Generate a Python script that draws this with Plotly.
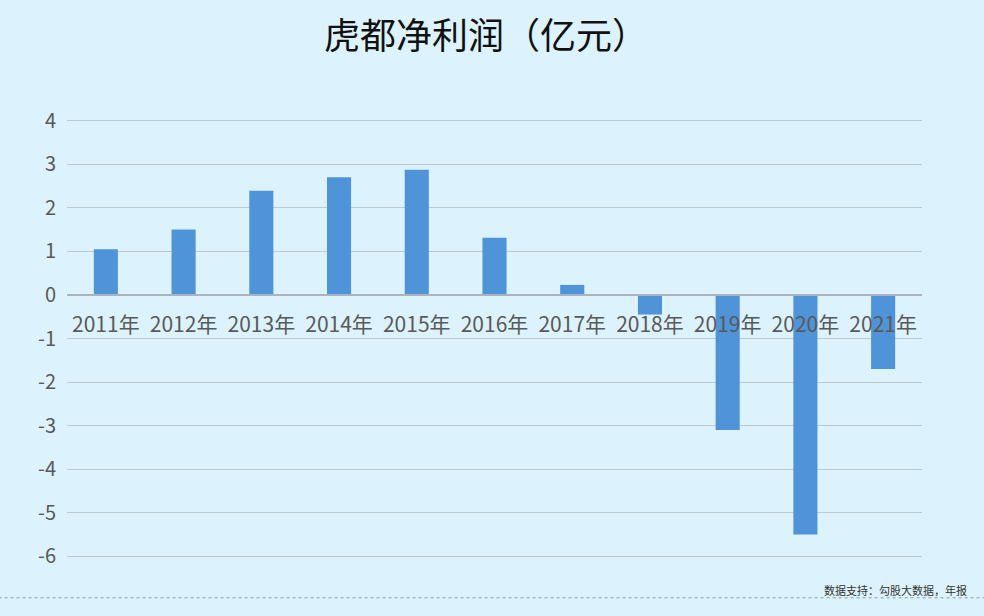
import plotly.graph_objects as go

years = ["2011年", "2012年", "2013年", "2014年", "2015年", "2016年",
         "2017年", "2018年", "2019年", "2020年", "2021年"]
net_profit = [1.05, 1.5, 2.39, 2.7, 2.87, 1.31, 0.23, -0.45, -3.1, -5.5, -1.7]
y_ticks = [4, 3, 2, 1, 0, -1, -2, -3, -4, -5, -6]
y_tick_text = ["4", "3", "2", "1", "0", "-1", "-2", "-3", "-4", "-5", "-6"]

FONT = "Noto Sans CJK SC, Lato, sans-serif"
BG = "#DCF3FD"
Y_MIN, Y_MAX, PAD = -6, 4, 0.06

fig = go.Figure(go.Bar(
    x=years, y=net_profit,
    marker=dict(color="#4F94D8", line=dict(width=0)),
    width=0.31,
))

fig.update_layout(
    width=984, height=616,
    paper_bgcolor=BG, plot_bgcolor=BG,
    margin=dict(l=67, r=62, t=118, b=57),
    showlegend=False,
    title=dict(text="虎都净利润（亿元）", x=0.494, xanchor="center", y=0.941, yanchor="middle",
               font=dict(family=FONT, size=36, color="#111111")),
    font=dict(family=FONT, color="#595959"),
    xaxis=dict(
        type="category", anchor="free",
        position=(0 - (Y_MIN - PAD)) / ((Y_MAX + PAD) - (Y_MIN - PAD)),
        showline=True, linecolor="#AAB4BA", linewidth=1.5,
        showgrid=False, ticks="", ticklabelstandoff=11,
        tickfont=dict(family=FONT, size=21, color="#595959"),
        range=[-0.5, 10.5],
    ),
    yaxis=dict(
        range=[Y_MIN - PAD, Y_MAX + PAD], tickvals=y_ticks, ticktext=y_tick_text,
        showgrid=True, gridcolor="#BFC9CE", gridwidth=1.2,
        zeroline=False, showline=False, ticks="",
        tickfont=dict(family=FONT, size=20, color="#595959"),
        ticklabelstandoff=10,
    ),
)

fig.add_annotation(
    text="数据支持：勾股大数据，年报", xref="paper", yref="paper",
    x=1.055, y=-0.071, xanchor="right", yanchor="middle", showarrow=False,
    font=dict(family=FONT, size=11, color="#333333"),
)
fig.add_shape(type="line", xref="paper", yref="paper", x0=-0.08, x1=1.08, y0=-0.088, y1=-0.088,
              line=dict(color="#8A9AA5", width=1, dash="dot"))

fig.write_html("out.html", config={"displayModeBar": False},
               post_script="document.body.style.margin='0';document.body.style.padding='0';")
